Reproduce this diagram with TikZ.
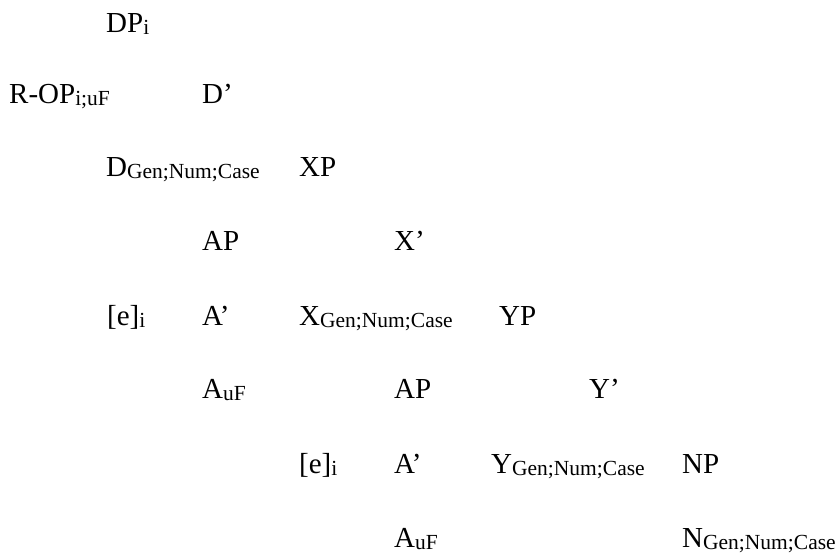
\documentclass[tikz,border=0pt]{standalone}
\usepackage{fontspec}
\setmainfont{Liberation Serif}
\usetikzlibrary{positioning}
\newcommand{\feat}[1]{{\fontsize{21.5}{22}\selectfont\raisebox{-2pt}{#1}}}
\tikzset{lab/.style={anchor=base west, inner sep=0pt, font=\fontsize{29}{32}\selectfont}}

\begin{document}
\begin{tikzpicture}[x=1pt,y=-1pt]
      \useasboundingbox (0,0) rectangle (840,554);
      \node[lab] (dp) at (106,32) {DP\feat{i}};
      \node[lab] (rop) at (9,103) {R-OP\feat{i;uF}};
      \node[lab] (dbar) at (202,103) {D’};
      \node[lab] (d) at (106,176) {D\feat{Gen;Num;Case}};
      \node[lab] (xp) at (299,176) {XP};
      \node[lab] (ap1) at (202,250) {AP};
      \node[lab] (xbar) at (394,250) {X’};
      \node[lab] (e1) at (107,325) {[e]\feat{i}};
      \node[lab] (abar1) at (202,325) {A’};
      \node[lab] (x) at (299,325) {X\feat{Gen;Num;Case}};
      \node[lab] (yp) at (499,325) {YP};
      \node[lab] (a1) at (202,398) {A\feat{uF}};
      \node[lab] (ap2) at (394,398) {AP};
      \node[lab] (ybar) at (589,398) {Y’};
      \node[lab] (e2) at (299,473) {[e]\feat{i}};
      \node[lab] (abar2) at (394,473) {A’};
      \node[lab] (y) at (491,473) {Y\feat{Gen;Num;Case}};
      \node[lab] (np) at (682,473) {NP};
      \node[lab] (a2) at (394,547) {A\feat{uF}};
      \node[lab] (n) at (682,547) {N\feat{Gen;Num;Case}};
    \end{tikzpicture}
\end{document}
